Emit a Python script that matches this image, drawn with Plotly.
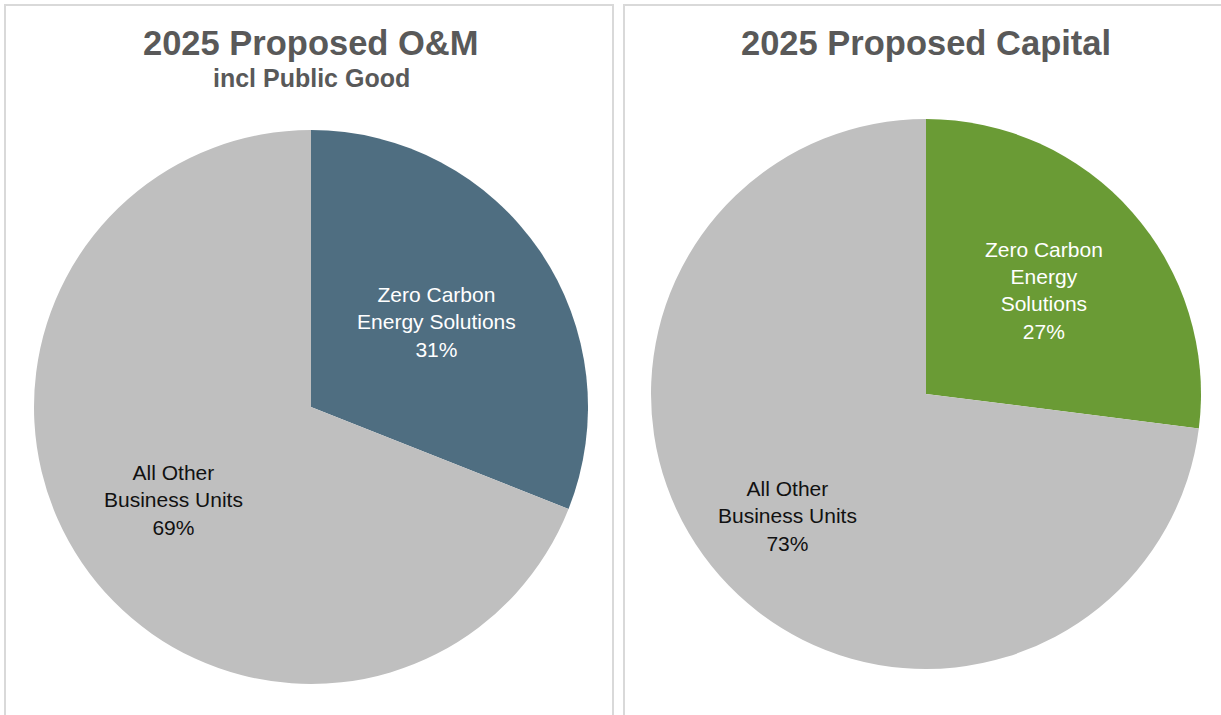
import math
import plotly.graph_objects as go

# Data
om_labels = ["Zero Carbon<br>Energy Solutions", "All Other<br>Business Units"]
om_values = [31, 69]
cap_labels = ["Zero Carbon<br>Energy<br>Solutions", "All Other<br>Business Units"]
cap_values = [27, 73]

om_colors = ["#4F6E81", "#BFBFBF"]
cap_colors = ["#6A9B35", "#BFBFBF"]

W, H = 1221, 715
FONT = "Liberation Sans, Arial"


def px(x, y):
    return x / W, 1 - y / H


def px_dom(cx, cy, r):
    x0, y1 = px(cx - r, cy - r)
    x1, y0 = px(cx + r, cy + r)
    return dict(x=[x0, x1], y=[y0, y1])


pies = [
    dict(labels=om_labels, values=om_values, colors=om_colors, cx=311, cy=407, r=277, frac=0.60),
    dict(labels=cap_labels, values=cap_values, colors=cap_colors, cx=926, cy=394, r=275, frac=0.67),
]

fig = go.Figure()
annotations = []
for p in pies:
    fig.add_trace(go.Pie(
        labels=p["labels"], values=p["values"], sort=False, direction="clockwise", rotation=0,
        marker=dict(colors=p["colors"], line=dict(width=0)),
        texttemplate="%{label}<br>%{percent}", textposition=["inside", "none"],
        insidetextorientation="horizontal",
        insidetextfont=dict(family=FONT, size=21, color="#FFFFFF"),
        domain=px_dom(p["cx"], p["cy"], p["r"]), hoverinfo="label+percent", showlegend=False,
    ))
    # label of the large grey slice, placed along its bisector
    total = sum(p["values"])
    mid = 2 * math.pi * (p["values"][0] + p["values"][1] / 2) / total
    lx = p["cx"] + p["frac"] * p["r"] * math.sin(mid)
    ly = p["cy"] - p["frac"] * p["r"] * math.cos(mid)
    ax, ay = px(lx, ly)
    pct = round(100 * p["values"][1] / total)
    annotations.append(dict(
        text=f"{p['labels'][1]}<br>{pct}%", x=ax, y=ay, xref="paper", yref="paper",
        xanchor="center", yanchor="middle", showarrow=False,
        font=dict(family=FONT, size=21, color="#111111"),
    ))

titles = [
    ("<b>2025 Proposed O&M</b>", 311, 43, 34.5),
    ("<b>incl Public Good</b>", 311, 78, 25),
    ("<b>2025 Proposed Capital</b>", 926, 43, 34.5),
]
for txt, x, y, s in titles:
    ax, ay = px(x, y)
    annotations.append(dict(text=txt, x=ax, y=ay, xref="paper", yref="paper",
                            xanchor="center", yanchor="middle", showarrow=False,
                            font=dict(family=FONT, size=s, color="#595959")))

border = dict(color="#D9D9D9", width=2)
lx0, ty = px(5, 5)
lx1, _ = px(613, 5)
rx0, _ = px(624, 5)
fig.update_layout(
    width=W, height=H, margin=dict(l=0, r=0, t=0, b=0),
    paper_bgcolor="white", plot_bgcolor="white",
    shapes=[
        dict(type="rect", xref="paper", yref="paper", x0=lx0, x1=lx1, y0=-0.05, y1=ty, line=border),
        dict(type="rect", xref="paper", yref="paper", x0=rx0, x1=1.05, y0=-0.05, y1=ty, line=border),
    ],
    annotations=annotations,
)

fig.write_html("out.html", config={"displayModeBar": False},
               post_script="document.body.style.margin='0';")
